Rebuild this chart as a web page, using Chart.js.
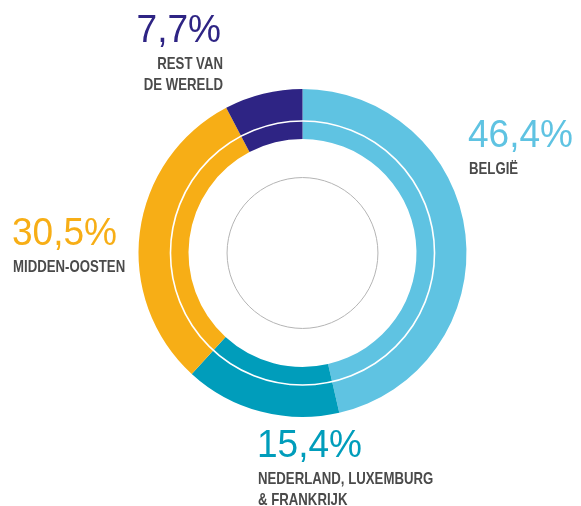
<!DOCTYPE html>
<html>
<head>
<meta charset="utf-8">
<script src="https://cdn.jsdelivr.net/npm/chart.js@4"></script>
<style>
  html, body { margin: 0; padding: 0; background: #fff; }
  #wrap { position: relative; width: 581px; height: 506px; }
</style>
</head>
<body>
<div id="wrap"><canvas id="regions" width="581" height="506"></canvas></div>
<script>
  // Omzet per regio
  const regions = ['België', 'Nederland, Luxemburg & Frankrijk', 'Midden-Oosten', 'Rest van de wereld'];
  const shares = [46.4, 15.4, 30.5, 7.7];
  const sliceColors = ['#5fc3e2', '#009dbb', '#f7ae16', '#2e2484'];
  const labelLines = [['BELGIË'], ['NEDERLAND, LUXEMBURG', '& FRANKRIJK'], ['MIDDEN-OOSTEN'], ['REST VAN', 'DE WERELD']];

  // label placement: [x, baseline of percentage, alignment]
  const labelPos = [
    [468, 147, 'left'],
    [257, 457, 'left'],
    [12, 245, 'left'],
    [221, 42, 'right']
  ];

  const NUM_FONT = '39px "Liberation Sans", Arial, sans-serif';
  const CAT_FONT = 'bold 16.5px "Liberation Sans", Arial, sans-serif';

  function fmtPct(v) { return v.toFixed(1).replace('.', ',') + '%'; }

  // text squeezed horizontally (condensed look)
  function squeezed(ctx, txt, x, y, sx) {
    ctx.save();
    ctx.translate(x, y);
    ctx.scale(sx, 1);
    ctx.fillText(txt, 0, 0);
    ctx.restore();
  }

  const decorations = {
    id: 'decorations',
    afterDatasetsDraw(chart) {
      const ctx = chart.ctx;
      const arc = chart.getDatasetMeta(0).data[0];
      const cx = arc.x, cy = arc.y, outer = arc.outerRadius;
      ctx.save();
      // thin white ring inside the band
      ctx.beginPath();
      ctx.arc(cx, cy, outer * 0.805, 0, Math.PI * 2);
      ctx.strokeStyle = '#ffffff';
      ctx.lineWidth = 1.6;
      ctx.stroke();
      // grey inner circle
      ctx.beginPath();
      ctx.arc(cx, cy, outer * 0.46, 0, Math.PI * 2);
      ctx.strokeStyle = '#b4b4b4';
      ctx.lineWidth = 1;
      ctx.stroke();

      // labels
      shares.forEach((v, i) => {
        const [x, y, align] = labelPos[i];
        ctx.textAlign = align;
        ctx.textBaseline = 'alphabetic';
        ctx.fillStyle = sliceColors[i];
        ctx.font = NUM_FONT;
        squeezed(ctx, fmtPct(v), x, y, 0.95);
        ctx.fillStyle = '#4a4a4a';
        ctx.font = CAT_FONT;
        labelLines[i].forEach((line, j) => {
          squeezed(ctx, line, x + (align === 'right' ? 2 : 1), y + 27 + j * 21, 0.8);
        });
      });
      ctx.restore();
    }
  };

  new Chart(document.getElementById('regions').getContext('2d'), {
    type: 'doughnut',
    data: {
      labels: regions,
      datasets: [{
        data: shares,
        backgroundColor: sliceColors,
        borderWidth: 0,
        hoverOffset: 0
      }]
    },
    options: {
      responsive: false,
      animation: false,
      cutout: '69.5%',
      layout: { padding: { left: 138.5, right: 114.5, top: 89, bottom: 89 } },
      plugins: {
        legend: { display: false },
        tooltip: { enabled: false }
      }
    },
    plugins: [decorations]
  });
</script>
</body>
</html>
